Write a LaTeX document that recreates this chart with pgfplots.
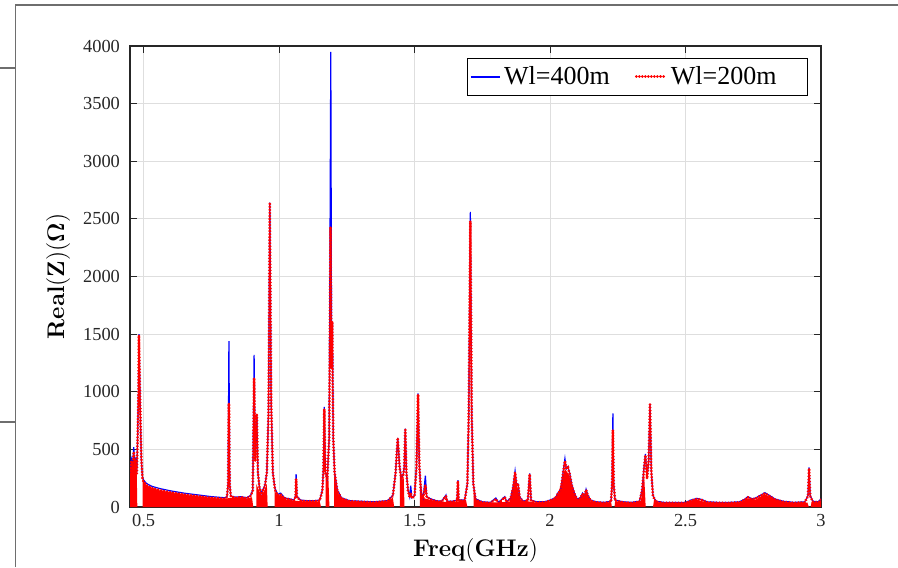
\documentclass[border=0pt]{standalone}
\usepackage{pgfplots}
\pgfplotsset{compat=1.18}
\usepackage[no-math]{fontspec}
\setmainfont{Liberation Serif}

\definecolor{axgray}{RGB}{38,38,38}
\definecolor{gridgray}{RGB}{222,222,222}
\definecolor{framegray}{RGB}{110,110,110}
\definecolor{wlblue}{RGB}{0,0,255}
\definecolor{wlred}{RGB}{255,0,0}

\begin{document}
\begin{tikzpicture}
\useasboundingbox (0,0) rectangle (449pt,-283.5pt);
% page frame
\draw[framegray, line width=0.6pt] (7.6pt,-283.5pt) -- (7.6pt,-2.5pt) -- (449pt,-2.5pt);
\draw[framegray, line width=0.6pt] (0,-34pt) -- (7.6pt,-34pt);
\draw[framegray, line width=0.6pt] (0,-211pt) -- (7.6pt,-211pt);

\begin{axis}[
  at={(65pt,-253.5pt)}, anchor=south west,
  scale only axis, width=345.5pt, height=230.5pt,
  xmin=0.45, xmax=3, ymin=0, ymax=4000,
  xtick={0.5,1,1.5,2,2.5,3},
  ytick={0,500,1000,1500,2000,2500,3000,3500,4000},
  xticklabels={0.5,1,1.5,2,2.5,3},
  scaled y ticks=false,
  /pgf/number format/assume math mode=true,
  /pgf/number format/1000 sep={},
  tick label style={font=\fontsize{9.2}{10}\selectfont, text=axgray},
  yticklabel style={xshift=-1.5pt},
  tick align=inside,
  major tick length=3.5pt,
  tick style={axgray, line width=0.5pt},
  axis line style={axgray, line width=0.6pt},
  grid=major,
  major grid style={gridgray, line width=0.5pt},
  xlabel={$\mathbf{Freq(GHz)}$},
  ylabel={$\mathbf{Real(Z)(\Omega)}$},
  label style={font=\fontsize{12.5}{14}\selectfont},
  xlabel style={at={(0.5,-0.095)}, anchor=center},
  ylabel style={at={(-0.104,0.5)}, anchor=center},
  legend columns=2,
  legend style={at={(0.981,0.974)}, anchor=north east, fill=white,
    font=\fontsize{13}{15}\selectfont,
    inner xsep=1.5pt, inner ysep=2pt,
    /tikz/every even column/.append style={column sep=10.5pt}},
  legend image code/.code={\draw[#1] (0pt,0pt) -- (14.5pt,0pt);},
]

% densely oscillating part of the Wl=200m response, drawn as a filled band
\addplot[fill=wlred, draw=none, forget plot] coordinates {
(0.45,0)(0.45,255)(0.455,390)(0.46,350)(0.464,470)(0.467,320)(0.471,400)(0.475,280)(0.477,0)
(0.497,0)(0.497,235)(0.51,188)(0.53,163)(0.56,143)(0.60,125)(0.65,106)(0.70,92)(0.75,78)(0.80,70)(0.81,75)(0.82,80)(0.84,76)(0.86,82)(0.88,72)(0.9,85)(0.905,0)
(0.916,0)(0.916,200)(0.925,150)(0.935,100)(0.945,140)(0.955,200)(0.958,0)
(0.984,0)(0.984,140)(0.995,95)(1.006,105)(1.02,70)(1.05,55)(1.1,48)(1.15,50)(1.155,0)
(1.172,0)(1.172,280)(1.182,260)(1.186,0)
(1.203,0)(1.203,300)(1.215,130)(1.23,70)(1.26,48)(1.3,43)(1.35,40)(1.4,48)(1.42,80)(1.425,0)
(1.446,0)(1.446,320)(1.452,230)(1.46,260)(1.463,0)
(1.52,0)(1.52,300)(1.53,80)(1.56,60)(1.6,45)(1.65,45)(1.69,60)(1.695,0)
(1.718,0)(1.718,150)(1.73,60)(1.76,38)(1.8,40)(1.85,45)(1.86,150)(1.87,250)(1.88,170)(1.89,60)(1.95,38)(2.0,50)(2.03,110)(2.045,250)(2.055,330)(2.07,280)(2.085,150)(2.1,60)(2.12,100)(2.135,130)(2.15,50)(2.2,35)(2.226,40)(2.228,0)
(2.238,0)(2.24,45)(2.3,35)(2.335,45)(2.34,130)(2.347,300)(2.353,0)
(2.38,0)(2.385,80)(2.4,38)(2.5,35)(2.54,65)(2.58,38)(2.7,38)(2.73,75)(2.76,65)(2.79,110)(2.82,80)(2.87,40)(2.95,38)(2.955,0)
(2.962,0)(2.965,45)(3.0,55)(3.0,0)
};

% Wl = 400 m
\addplot[color=wlblue, line width=0.6pt] coordinates {
(0.450,280) (0.455,420) (0.460,380) (0.464,520) (0.467,350) (0.471,430) (0.475,300) (0.478,600) (0.481,1000) (0.483,1500) (0.486,1100) (0.489,700) (0.492,400) (0.496,260) (0.50,235) (0.51,205) (0.53,180) (0.56,160) (0.60,140) (0.65,120) (0.70,105) (0.75,90) (0.80,80) (0.808,90) (0.812,200) (0.815,1440) (0.818,200) (0.822,95) (0.84,85) (0.86,90) (0.88,80) (0.895,100) (0.903,150) (0.908,1320) (0.912,400) (0.918,800) (0.922,300) (0.928,170) (0.935,120) (0.942,160) (0.948,190) (0.955,300) (0.961,800) (0.966,2640) (0.971,900) (0.977,300) (0.985,160) (0.995,110) (1.006,120) (1.02,80) (1.04,70) (1.055,60) (1.061,100) (1.063,286) (1.066,90) (1.08,60) (1.10,55) (1.13,55) (1.15,60) (1.16,150) (1.164,360) (1.167,868) (1.171,300) (1.178,250) (1.185,600) (1.191,3950) (1.194,1200) (1.197,1600) (1.200,600) (1.205,300) (1.215,150) (1.23,80) (1.26,55) (1.30,50) (1.35,45) (1.40,55) (1.42,100) (1.43,300) (1.438,600) (1.445,350) (1.452,250) (1.458,280) (1.462,350) (1.466,680) (1.470,300) (1.476,150) (1.482,90) (1.486,185) (1.490,80) (1.50,100) (1.507,350) (1.513,986) (1.518,350) (1.524,130) (1.532,80) (1.54,272) (1.545,90) (1.56,70) (1.58,55) (1.60,50) (1.616,104) (1.62,50) (1.64,50) (1.657,60) (1.66,234) (1.663,60) (1.685,60) (1.695,200) (1.700,800) (1.706,2560) (1.711,800) (1.717,200) (1.725,70) (1.75,45) (1.78,40) (1.80,78) (1.81,40) (1.833,90) (1.84,45) (1.855,80) (1.864,180) (1.871,312) (1.876,200) (1.882,200) (1.888,90) (1.90,50) (1.918,60) (1.925,292) (1.93,60) (1.95,45) (1.98,45) (2.00,60) (2.02,80) (2.031,130) (2.04,150) (2.048,300) (2.055,420) (2.06,330) (2.066,350) (2.072,300) (2.08,200) (2.09,120) (2.10,70) (2.112,80) (2.12,120) (2.127,90) (2.133,154) (2.14,100) (2.15,60) (2.17,45) (2.20,40) (2.225,50) (2.229,200) (2.232,813) (2.235,200) (2.24,60) (2.27,45) (2.30,40) (2.33,50) (2.34,150) (2.347,350) (2.352,460) (2.358,250) (2.364,400) (2.369,894) (2.374,300) (2.38,100) (2.39,50) (2.42,40) (2.46,40) (2.50,40) (2.52,60) (2.542,75) (2.56,65) (2.58,45) (2.62,40) (2.66,40) (2.70,45) (2.72,70) (2.73,90) (2.745,70) (2.76,80) (2.775,100) (2.793,124) (2.81,100) (2.83,70) (2.86,50) (2.90,40) (2.94,45) (2.952,100) (2.956,344) (2.96,100) (2.97,50) (2.99,45) (3.00,70)
};
\addlegendentry{Wl=400m}

% Wl = 200 m
\addplot[color=wlred, line width=1.5pt, line cap=round, dash pattern=on 0.01pt off 1.5pt] coordinates {
(0.450,260) (0.455,400) (0.460,360) (0.464,480) (0.467,330) (0.471,410) (0.475,290) (0.478,580) (0.481,980) (0.483,1490) (0.486,1080) (0.489,720) (0.492,420) (0.496,250) (0.50,220) (0.51,190) (0.53,165) (0.56,145) (0.60,127) (0.65,108) (0.70,94) (0.75,80) (0.80,72) (0.808,85) (0.812,200) (0.815,900) (0.818,200) (0.822,90) (0.84,80) (0.86,85) (0.88,75) (0.895,95) (0.903,140) (0.908,1120) (0.912,400) (0.918,800) (0.922,300) (0.928,160) (0.935,110) (0.942,150) (0.948,180) (0.955,300) (0.961,800) (0.966,2630) (0.971,900) (0.977,300) (0.985,150) (0.995,100) (1.006,110) (1.02,75) (1.04,65) (1.055,55) (1.061,90) (1.063,243) (1.066,85) (1.08,55) (1.10,50) (1.13,50) (1.15,55) (1.16,140) (1.164,340) (1.167,850) (1.171,300) (1.178,240) (1.185,600) (1.190,2430) (1.193,1200) (1.196,1610) (1.200,600) (1.205,300) (1.215,140) (1.23,75) (1.26,50) (1.30,45) (1.35,40) (1.40,50) (1.42,95) (1.43,290) (1.438,600) (1.445,340) (1.452,240) (1.458,270) (1.462,340) (1.466,670) (1.470,300) (1.476,140) (1.482,85) (1.486,120) (1.490,75) (1.50,95) (1.507,340) (1.513,975) (1.518,340) (1.524,120) (1.532,75) (1.54,190) (1.545,85) (1.56,65) (1.58,50) (1.60,45) (1.616,95) (1.62,45) (1.64,45) (1.657,55) (1.66,225) (1.663,55) (1.685,55) (1.695,200) (1.700,800) (1.706,2480) (1.711,800) (1.717,200) (1.725,65) (1.75,40) (1.78,35) (1.80,70) (1.81,35) (1.833,85) (1.84,40) (1.855,75) (1.864,170) (1.871,300) (1.876,200) (1.882,200) (1.888,85) (1.90,45) (1.918,55) (1.925,285) (1.93,55) (1.95,40) (1.98,40) (2.00,55) (2.02,75) (2.031,125) (2.04,145) (2.048,290) (2.055,400) (2.06,330) (2.066,340) (2.072,290) (2.08,190) (2.09,115) (2.10,65) (2.112,75) (2.12,115) (2.127,85) (2.133,150) (2.14,95) (2.15,55) (2.17,40) (2.20,35) (2.225,45) (2.229,200) (2.232,668) (2.235,200) (2.24,55) (2.27,40) (2.30,35) (2.33,45) (2.34,145) (2.347,340) (2.352,450) (2.358,245) (2.364,400) (2.369,890) (2.374,300) (2.38,95) (2.39,45) (2.42,35) (2.46,35) (2.50,35) (2.52,55) (2.542,70) (2.56,60) (2.58,40) (2.62,35) (2.66,35) (2.70,40) (2.72,65) (2.73,85) (2.745,65) (2.76,75) (2.775,95) (2.793,118) (2.81,95) (2.83,65) (2.86,45) (2.90,35) (2.94,40) (2.952,95) (2.956,335) (2.96,95) (2.97,45) (2.99,40) (3.00,65)
};
\addlegendentry{Wl=200m\rule{12pt}{0pt}}
\end{axis}
\end{tikzpicture}
\end{document}
